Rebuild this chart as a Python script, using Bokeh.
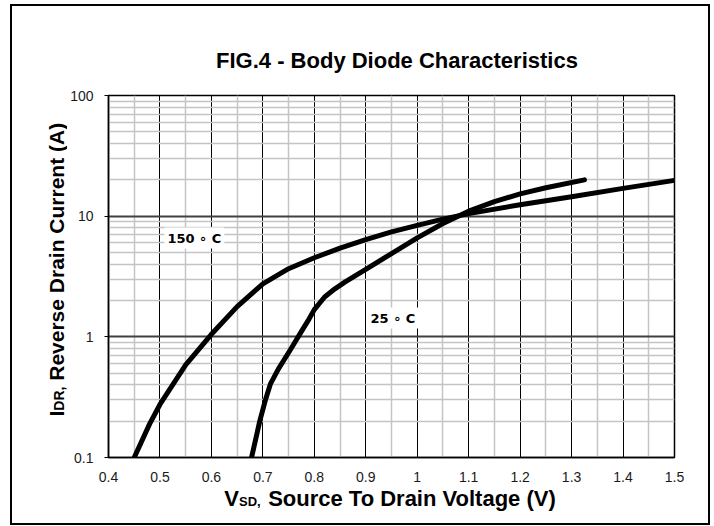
import math
from bokeh.plotting import figure
from bokeh.layouts import row, column
from bokeh.models import Range1d, FixedTicker, Label
from bokeh.embed import file_html
from bokeh.resources import INLINE

# ---------------- data ----------------
title_text = "FIG.4 - Body Diode Characteristics"
x_title_parts = ["V", "SD,", "Source To Drain Voltage (V)"]
y_title_parts = ["I", "DR,", "Reverse Drain Current (A)"]

vsd_150 = [0.45, 0.48, 0.50, 0.55, 0.60, 0.65, 0.70, 0.75, 0.80, 0.85, 0.90, 0.95,
           1.00, 1.05, 1.10, 1.20, 1.30, 1.40, 1.50]
idr_150 = [0.10, 0.19, 0.275, 0.585, 1.05, 1.78, 2.75, 3.67, 4.52, 5.43, 6.4, 7.4,
           8.4, 9.45, 10.5, 12.45, 14.5, 17.0, 19.8]

vsd_25 = [0.678, 0.694, 0.705, 0.715, 0.73, 0.755, 0.775, 0.79, 0.80, 0.82, 0.84, 0.86,
          0.90, 0.95, 1.00, 1.05, 1.10, 1.15, 1.20, 1.25, 1.325]
idr_25 = [0.10, 0.20, 0.30, 0.41, 0.54, 0.80, 1.11, 1.41, 1.68, 2.14, 2.5, 2.85,
          3.63, 4.9, 6.6, 8.7, 11.0, 13.2, 15.3, 17.2, 20.0]

series_labels = ["150 \u2218 C", "25 \u2218 C"]

x_ticks = [0.4, 0.5, 0.6, 0.7, 0.8, 0.9, 1.0, 1.1, 1.2, 1.3, 1.4, 1.5]
x_tick_labels = ["0.4", "0.5", "0.6", "0.7", "0.8", "0.9", "1", "1.1", "1.2", "1.3", "1.4", "1.5"]
x_minor = [0.45, 0.55, 0.65, 0.75, 0.85, 0.95, 1.05, 1.15, 1.25, 1.35, 1.45]

y_ticks = [0.1, 1, 10, 100]
y_tick_labels = ["0.1", "1", "10", "100"]
y_minor = [0.2, 0.3, 0.4, 0.5, 0.6, 0.7, 0.8, 0.9,
           2, 3, 4, 5, 6, 7, 8, 9,
           20, 30, 40, 50, 60, 70, 80, 90]

FONT = "Liberation Sans"
BORDER_L, BORDER_R = 40, 34          # main-frame side borders (page x 107..674)
COL_X0, COL_X1 = 67, 708             # page x span of the right-hand column


def add_text(fig, x, y, text, size, align="center", baseline="middle",
             angle=0.0, font=FONT, style="bold", **kw):
    fig.add_layout(Label(x=x, y=y, text=text, text_font=font,
                         text_font_size=size, text_font_style=style,
                         text_align=align, text_baseline=baseline,
                         text_color="black", angle=angle, **kw))


def blank_fig(w, h, x0, x1, y_bottom, y_top, bl=0, br=0):
    # a text-only panel whose data coordinates equal page pixels
    f = figure(width=w, height=h, x_range=Range1d(x0, x1),
               y_range=Range1d(y_bottom, y_top),
               output_backend="svg", toolbar_location=None, title=None,
               x_axis_location=None, y_axis_location=None,
               min_border_left=bl, min_border_right=br,
               min_border_top=0, min_border_bottom=0)
    f.grid.visible = False
    f.outline_line_color = None
    f.background_fill_color = "white"
    f.border_fill_color = "white"
    return f


# ------------- main chart -------------
W = COL_X1 - COL_X0
p = figure(width=W, height=405,
           x_range=Range1d(0.4, 1.5), y_range=Range1d(0.1, 100),
           y_axis_type="log", title=None,
           output_backend="svg", toolbar_location=None,
           min_border_left=BORDER_L, min_border_right=BORDER_R,
           min_border_top=15, min_border_bottom=28)
p.background_fill_color = "white"
p.border_fill_color = "white"
p.outline_line_color = "black"
p.outline_line_width = 1.5

p.xaxis.ticker = FixedTicker(ticks=x_ticks, minor_ticks=x_minor)
p.yaxis.ticker = FixedTicker(ticks=y_ticks, minor_ticks=y_minor)
p.xaxis.major_label_overrides = {t: s for t, s in zip(x_ticks, x_tick_labels)}
p.yaxis.major_label_overrides = {t: s for t, s in zip(y_ticks, y_tick_labels)}

for ax in (p.xaxis, p.yaxis):
    ax.axis_line_color = "black"
    ax.axis_line_width = 1.5
    ax.minor_tick_line_color = None
    ax.major_tick_in = 0
    ax.major_tick_line_color = "black"
    ax.major_label_text_font = FONT
    ax.major_label_text_font_size = "14px"
    ax.major_label_text_color = "#1a1a1a"
p.xaxis.major_tick_out = 0
p.xaxis.major_label_standoff = 10
p.yaxis.major_tick_out = 4
p.yaxis.major_label_standoff = 11

p.xgrid.grid_line_color = "black"
p.xgrid.grid_line_width = 1
p.xgrid.minor_grid_line_color = "#c4c4c4"
p.xgrid.minor_grid_line_width = 1.5
p.ygrid.grid_line_color = "#404040"
p.ygrid.grid_line_width = 2
p.ygrid.minor_grid_line_color = "#c4c4c4"
p.ygrid.minor_grid_line_width = 1.5

for xs, ys in ((vsd_150, idr_150), (vsd_25, idr_25)):
    p.line(xs, ys, line_color="black", line_width=5,
           line_cap="round", line_join="round")

# page-pixel -> data helpers for the in-plot labels
X0_PX, PX_PER_V = 107.0, 515.5
Y0_PX, PX_PER_DEC = 457.0, 120.67


def dx(px):
    return 0.4 + (px - X0_PX) / PX_PER_V


def dy(py):
    return 10 ** (-1 + (Y0_PX - py) / PX_PER_DEC)


add_text(p, dx(193), dy(237.5), series_labels[0], "13px",
         font="DejaVu Sans", background_fill_color="white", padding=3)
add_text(p, dx(392), dy(317.5), series_labels[1], "13px",
         font="DejaVu Sans", background_fill_color="white", padding=3)

# ------------- text panels (coordinates = page pixels) -------------
# left panel: page x 12..67, y 6..523  (rotated y-axis title)
left = blank_fig(55, 517, 12, 67, 523, 6)
add_text(left, 55.5, 413.1, y_title_parts[0], "21px", angle=math.pi / 2)
add_text(left, 58.0, 398.1, y_title_parts[1], "14px", angle=math.pi / 2)
add_text(left, 55.5, 251.3, y_title_parts[2], "21px", angle=math.pi / 2)

# top/bottom panels share the main frame's side borders (layouts align frames),
# so their frames span page x 107..674
FX0, FX1 = COL_X0 + BORDER_L, COL_X1 - BORDER_R

# top panel: page y 6..80  (chart title)
top = blank_fig(W, 74, FX0, FX1, 80, 6, bl=BORDER_L, br=BORDER_R)
add_text(top, 396, 59.5, title_text, "22px")

# bottom panel: page y 485..523  (x-axis title)
bottom = blank_fig(W, 38, FX0, FX1, 523, 485, bl=BORDER_L, br=BORDER_R)
add_text(bottom, 230.4, 498.0, x_title_parts[0], "22px")
add_text(bottom, 248.6, 501.0, x_title_parts[1], "13px")
add_text(bottom, 411.0, 498.0, x_title_parts[2], "22px")

root = row(left, column(top, p, bottom))
root.styles = {"margin-left": "12px", "margin-top": "6px",
               "outline": "2px solid black"}

open("out.html", "w").write(file_html(root, INLINE))
